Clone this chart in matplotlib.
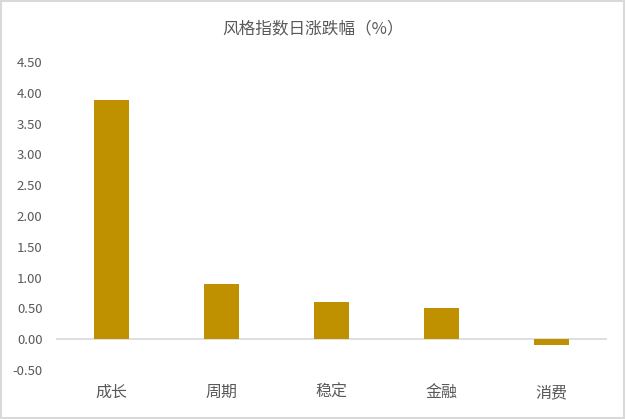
import matplotlib
matplotlib.use("Agg")
import matplotlib.pyplot as plt
from matplotlib.patches import Rectangle

plt.rcParams['font.family'] = ['Noto Sans CJK SC', 'DejaVu Sans']

# 数据
categorias = ["成长", "周期", "稳定", "金融", "消费"]
valores = [3.89, 0.90, 0.61, 0.51, -0.10]
ticks_y = [-0.5, 0.0, 0.5, 1.0, 1.5, 2.0, 2.5, 3.0, 3.5, 4.0, 4.5]

color_barra = "#BF9000"
gris_texto = "#595959"

fig = plt.figure(figsize=(6.26, 4.19), dpi=100)
fig.patch.set_facecolor("white")
# borde exterior gris claro
fig.patches.append(Rectangle((0.002, 0.003), 0.995, 0.994, transform=fig.transFigure,
                             fill=False, edgecolor="#D9D9D9", linewidth=1.5))

ax = fig.add_axes([0.090, 0.117, 0.879, 0.735])
x = range(len(categorias))
ax.bar(x, valores, width=0.32, color=color_barra, zorder=2)

ax.set_xlim(-0.5, len(categorias) - 0.5)
ax.set_ylim(-0.5, 4.5)
ax.set_yticks(ticks_y)
ax.set_yticklabels([f"{v:.2f}" for v in ticks_y])
ax.set_xticks(list(x))
ax.set_xticklabels(categorias)

for s in ax.spines.values():
    s.set_visible(False)
ax.axhline(0, color="#D9D9D9", linewidth=1.2, zorder=1)

ax.tick_params(axis="both", length=0, labelcolor=gris_texto, labelsize=9.5)
ax.tick_params(axis="y", pad=10)
ax.tick_params(axis="x", pad=10, labelsize=11.5)

fig.text(0.5, 0.932, "风格指数日涨跌幅（%）", ha="center", va="center",
         fontsize=12, color=gris_texto)

fig.savefig("out.png", dpi=100)
